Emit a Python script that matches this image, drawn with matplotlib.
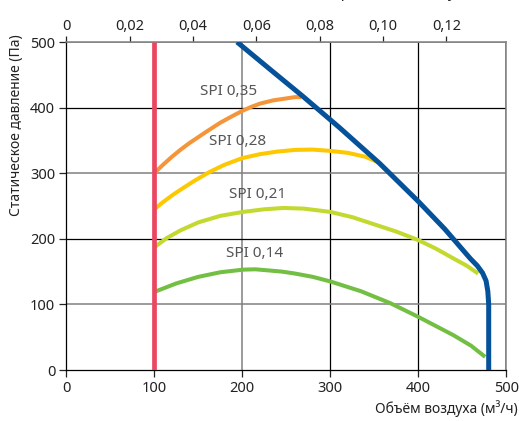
import matplotlib
matplotlib.use("Agg")
import matplotlib.pyplot as plt

plt.rcParams['font.family'] = ['Noto Sans', 'DejaVu Sans']

# рабочая характеристика вентилятора (м3/ч, Па)
fan_x = [194, 230, 269, 310, 356, 400, 430, 459, 467, 473, 477, 479, 480, 480]
fan_y = [500, 460, 417, 370, 315, 257, 215, 170, 159, 148, 136, 120, 100, 0]

# кривые SPI
spi_labels = ["SPI 0,35", "SPI 0,28", "SPI 0,21", "SPI 0,14"]
spi_x = [
    [100, 110, 120, 130, 140, 150, 160, 175, 190, 200, 210, 220, 235, 250, 260, 267],
    [100, 110, 120, 130, 145, 163, 180, 200, 220, 240, 260, 280, 300, 320, 340, 352],
    [100, 114, 130, 150, 175, 201, 225, 247, 270, 300, 325, 350, 375, 400, 420, 440, 455, 468],
    [100, 125, 150, 175, 201, 215, 228, 245, 260, 280, 300, 335, 368, 400, 420, 440, 460, 476],
]
spi_y = [
    [300, 313, 325, 336, 346, 355, 364, 377, 388, 395, 401, 406, 411, 414, 416, 416],
    [245, 256, 266, 275, 288, 302, 313, 323, 329, 333, 335.5, 336, 334, 331, 325, 318],
    [187, 201, 213, 225, 235, 241, 245, 247, 246, 241, 233, 222, 211, 198, 185, 170, 159, 147],
    [119, 132, 142, 149, 153, 153.5, 152, 150, 147, 142, 135, 120, 102, 81, 67, 53, 37, 20],
]
label_pos = [(184, 424), (195, 349), (217, 268), (214, 177)]

min_flow = 100
x_ticks = [0, 100, 200, 300, 400, 500]
y_ticks = [0, 100, 200, 300, 400, 500]
top_ticks = [0, 0.02, 0.04, 0.06, 0.08, 0.10, 0.12]

spi_colors = ["#f5953a", "#fec800", "#c3d92f", "#72bf44"]
fan_color = "#05519a"
red = "#eb4660"
gray = "#808080"

fig = plt.figure(figsize=(5.19, 4.21), dpi=100, facecolor='white')
ax = fig.add_axes([66.3 / 519, 51 / 421, 440 / 519, 328 / 421])

# сетка: серые и черные линии
for v in [200, 500]:
    ax.axvline(v, color=gray, lw=1.1, zorder=1)
for v in [300, 400]:
    ax.axvline(v, color='black', lw=0.9, zorder=1)
for v in [100, 300, 500]:
    ax.axhline(v, color=gray, lw=1.1, zorder=1)
for v in [200, 400]:
    ax.axhline(v, color='black', lw=0.9, zorder=1)

for xs, ys, c in zip(spi_x, spi_y, spi_colors):
    ax.plot(xs, ys, color=c, lw=2.9, solid_capstyle='butt', solid_joinstyle='round', zorder=3)
for lab, (lx, ly) in zip(spi_labels, label_pos):
    ax.text(lx, ly, lab, ha='center', va='center', fontsize=11, color='#555555', zorder=5)

ax.plot(fan_x, fan_y, color=fan_color, lw=3.6, solid_capstyle='butt', solid_joinstyle='round', zorder=4)
ax.plot([min_flow, min_flow], [0, 500], color=red, lw=3.4, solid_capstyle='butt', zorder=4)

ax.set_xlim(0, 500)
ax.set_ylim(0, 500)
ax.set_xticks(x_ticks)
ax.set_yticks(y_ticks)
ax.tick_params(labelsize=10.5, length=5, width=0.9, colors='#222222', pad=3)
for s in ['left', 'bottom']:
    ax.spines[s].set_color('black')
    ax.spines[s].set_linewidth(0.9)
for s in ['top', 'right']:
    ax.spines[s].set_color(gray)
    ax.spines[s].set_linewidth(1.1)

top = ax.secondary_xaxis('top', functions=(lambda x: x / 3600, lambda x: x * 3600))
top.set_xticks(top_ticks)
top.set_xticklabels(["0" if t == 0 else ("%.2f" % t).replace('.', ',') for t in top_ticks])
top.tick_params(labelsize=10.5, length=4, width=0.9, colors='#222222', pad=2)
top.spines['top'].set_visible(False)

# верхняя подпись обрезана краем рисунка, как в оригинале
fig.text(512 / 519, 1 + 3.5 / 421, "Удельная мощность вентилятора, объём воздуха (м³/с)",
         ha='right', va='baseline', fontsize=10.5, color='#222222')
fig.text(518 / 519, 1 - 413 / 421, "Объём воздуха (м³/ч)", ha='right', va='baseline',
         fontsize=10, color='#222222')
fig.text(17 / 519, 1 - 125 / 421, "Статическое давление (Па)", rotation=90,
         ha='center', va='center', fontsize=10, color='#222222')

fig.savefig("out.png", dpi=100, facecolor='white')
